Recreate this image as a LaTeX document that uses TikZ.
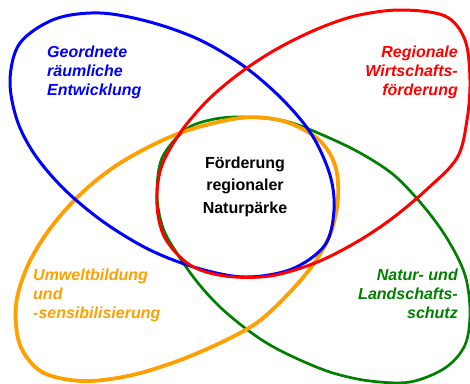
\documentclass[tikz,border=0pt]{standalone}
\usepackage{fontspec}
\setmainfont{Liberation Sans}
\definecolor{cblue}{RGB}{0,0,255}
\definecolor{cred}{RGB}{255,0,0}
\definecolor{corange}{RGB}{255,160,0}
\definecolor{cgreen}{RGB}{0,128,0}
\tikzset{
  loop/.style={smooth cycle, tension=0.55},
  lab/.style={inner sep=0pt, font=\fontsize{16}{19}\selectfont\bfseries\itshape},
  ctr/.style={inner sep=0pt, align=center, font=\fontsize{16}{22.5}\selectfont\bfseries},
}
\begin{document}
\begin{tikzpicture}[x=1pt,y=-1pt]
\useasboundingbox (0,0) rectangle (470,383);
\fill[white] (0,0) rectangle (470,383);
\begin{scope}
\clip (0,0) rectangle (470,383);
% green
\draw[cgreen, line width=2.7pt] plot[loop] coordinates {(240,117) (285,121) (325,136) (362,154) (395,176) (425,208) (448,240) (465,275) (470,312) (465,345) (445,368) (410,382) (370,381) (333,373) (300,360) (270,345) (245,328) (220,307) (198,283) (178,255) (163,228) (157,195) (162,158) (185,130) (210,120)};
% orange
\draw[corange, line width=3.8pt] plot[loop] coordinates {(240,118) (283,121) (318,139) (335,165) (338,198) (331,232) (315,262) (290,292) (258,322) (220,343) (175,362) (128,376) (82,381) (42,372) (20,345) (16,305) (28,265) (52,226) (85,190) (125,160) (180,133)};
% blue
\draw[cblue, line width=3pt] plot[loop] coordinates {(100,13) (150,22) (200,40) (245,67) (283,100) (312,135) (330,175) (334,210) (325,245) (292,269) (245,277) (197,268) (150,250) (105,223) (65,190) (35,155) (17,120) (10,80) (20,43) (55,19)};
% red
\draw[cred, line width=3pt] plot[loop] coordinates {(400,10) (445,16) (465,40) (470,80) (467,120) (457,158) (425,191) (390,220) (355,243) (315,263) (270,276) (225,276) (190,265) (165,238) (157,205) (161,168) (180,133) (208,100) (240,73) (275,50) (315,30) (355,16)};
\end{scope}
\node[lab, cblue, anchor=base west, align=left] (tblue) at (47,95) {Geordnete\\räumliche\\Entwicklung};
\node[lab, cred, anchor=base east, align=right] (tred) at (458,95) {Regionale\\Wirtschafts-\\förderung};
\node[lab, corange, anchor=base west, align=left] (torange) at (33,318) {Umweltbildung\\und\\-sensibilisierung};
\node[lab, cgreen, anchor=base east, align=right] (tgreen) at (458,318) {Natur- und\\Landschafts-\\schutz};
\node[ctr, anchor=base] (tcenter) at (245,213) {Förderung\\regionaler\\Naturpärke};
\end{tikzpicture}
\end{document}
